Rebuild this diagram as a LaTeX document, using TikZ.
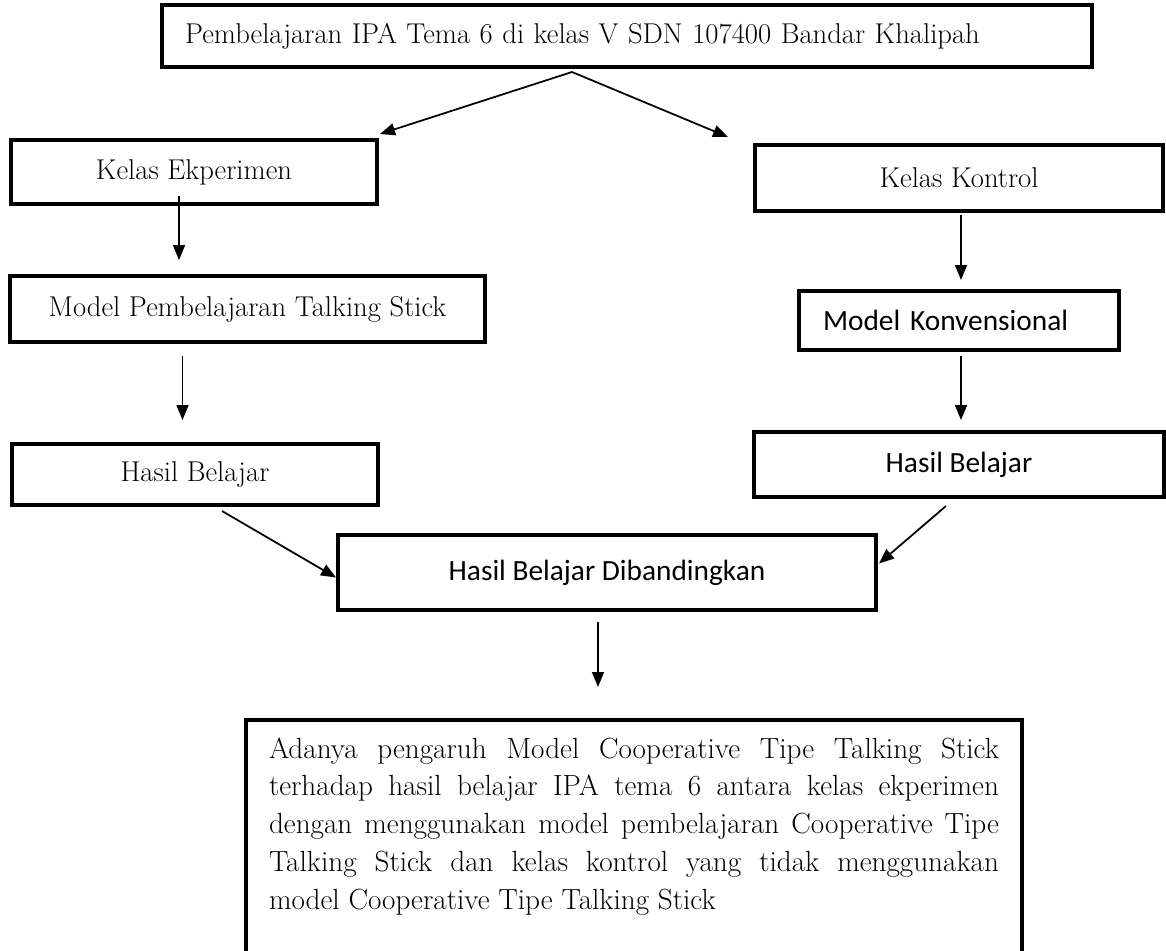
\documentclass[tikz,border=0pt]{standalone}
\usepackage{fontspec}
\newfontfamily\carlito{Carlito}
\usetikzlibrary{arrows.meta,positioning}

\begin{document}
\begin{tikzpicture}[
    box/.style={rectangle, draw, line width=2.2pt, outer sep=0pt, inner sep=0pt, align=center, font=\fontsize{16.3}{19}\selectfont},
    sansbox/.style={box, font=\carlito\fontsize{16.7}{19}\selectfont},
    arrow/.style={-{Triangle[length=0.3cm,width=0.24cm]}, line width=1pt}
]
    \useasboundingbox (0,0) rectangle (23.32,-19.02);

    % Judul
    \node[box, minimum width=18.6cm, minimum height=1.24cm, text width=17.68cm, align=left] (judul) at (12.54,-0.72) {Pembelajaran IPA Tema 6 di kelas V SDN 107400 Bandar Khalipah};

    % Kelas
    \node[box, minimum width=7.32cm, minimum height=1.28cm] (ekspr) at (3.88,-3.44) {Kelas Ekperimen};
    \node[box, minimum width=8.16cm, minimum height=1.32cm] (kontrol) at (19.18,-3.56) {Kelas Kontrol};

    % Model dan hasil
    \node[box, minimum width=9.5cm, minimum height=1.32cm, below right=1.44cm and -0.02cm of ekspr.south west] (talking) {Model Pembelajaran Talking Stick};
    \node[box, minimum width=7.32cm, minimum height=1.22cm, below right=2.04cm and 0.04cm of talking.south west] (hasilL) {Hasil Belajar};
    \node[sansbox, minimum width=6.4cm, minimum height=1.18cm, text width=5.44cm, align=left, below=1.6cm of kontrol] (konv) {Model Konvensional};
    \node[sansbox, minimum width=8.2cm, minimum height=1.3cm, below=1.64cm of konv] (hasilR) {Hasil Belajar};

    % Perbandingan
    \node[sansbox, minimum width=10.76cm, minimum height=1.5cm] (banding) at (12.14,-11.45) {Hasil Belajar Dibandingkan};

    % Kesimpulan
    \node[box, anchor=north, text width=14.6cm, inner xsep=0.46cm, inner ysep=0.35cm, align=justify, font=\fontsize{16.6}{21.5}\selectfont] (simpul) at (12.68,-14.4) {Adanya pengaruh Model Cooperative Tipe Talking Stick\linebreak terhadap hasil belajar IPA tema 6 antara kelas ekperimen\linebreak dengan menggunakan model pembelajaran Cooperative Tipe\linebreak Talking Stick dan kelas kontrol yang tidak menggunakan\linebreak model Cooperative Tipe Talking Stick\rule[-2cm]{0pt}{0pt}};

    % Arrows
    \coordinate[below left=0.1cm and 1.1cm of judul.south] (pisah);
    \coordinate[above right=0.12cm and 0.06cm of ekspr.north east] (kiri);
    \coordinate[above left=0.16cm and 0.54cm of kontrol.north west] (kanan);
    \draw[arrow] (pisah) -- (kiri);
    \draw[arrow] (pisah) -- (kanan);
    \draw[arrow, shorten >=0.32cm] ([xshift=-0.3cm,yshift=0.16cm]ekspr.south) coordinate (a1) -- (a1 |- talking.north);
    \draw[arrow, shorten >=0.48cm] ([xshift=-1.3cm,yshift=-0.28cm]talking.south) coordinate (a2) -- (a2 |- hasilL.north);
    \draw[arrow, shorten >=0.22cm] ([xshift=0.04cm,yshift=-0.08cm]kontrol.south) coordinate (a3) -- (a3 |- konv.north);
    \draw[arrow, shorten >=0.24cm] ([xshift=0.04cm,yshift=-0.12cm]konv.south) coordinate (a4) -- (a4 |- hasilR.north);
    \draw[arrow] ([xshift=0.54cm,yshift=-0.12cm]hasilL.south) -- ([xshift=-0.04cm,yshift=-0.1cm]banding.west);
    \draw[arrow] ([xshift=-0.26cm,yshift=-0.18cm]hasilR.south) -- ([xshift=0.06cm,yshift=0.18cm]banding.east);
    \draw[arrow, shorten >=0.66cm] ([xshift=-0.18cm,yshift=-0.24cm]banding.south) coordinate (a5) -- (a5 |- simpul.north);
\end{tikzpicture}
\end{document}
